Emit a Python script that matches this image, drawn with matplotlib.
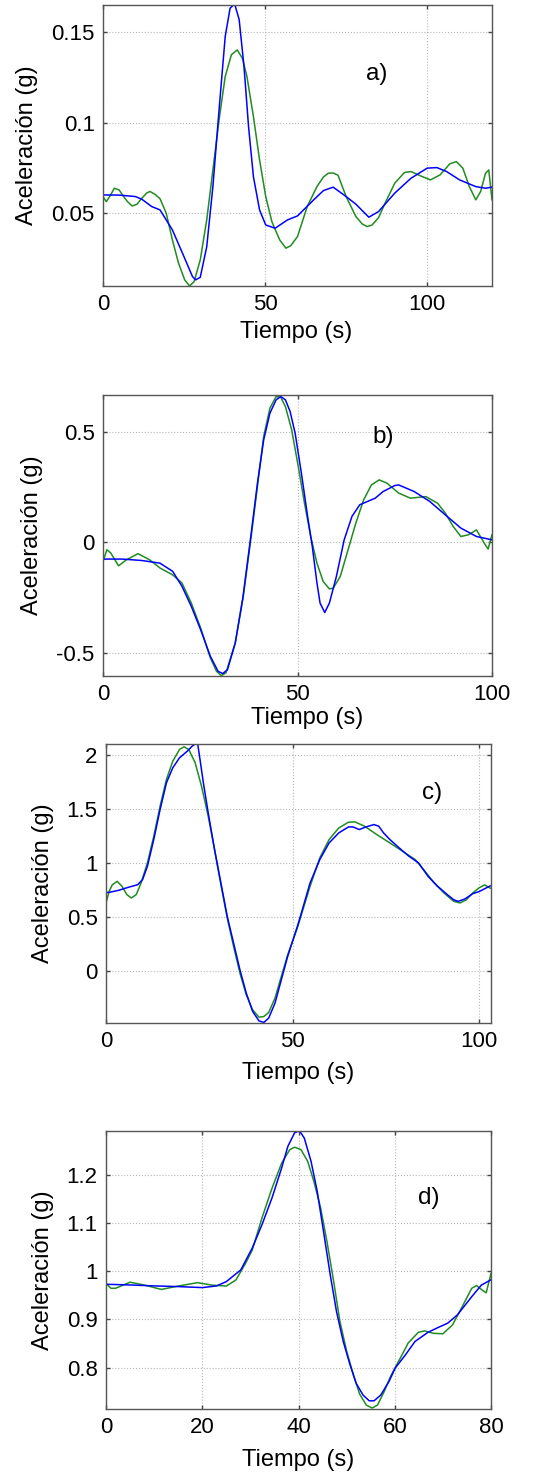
import matplotlib
matplotlib.use("Agg")
import matplotlib.pyplot as plt

plt.rcParams['font.family'] = ['Liberation Sans', 'DejaVu Sans']

# ---------------- Panel a ----------------
a_blue_t = [0, 5, 10, 12, 15, 17.6, 21.4, 25.2, 27.6, 28.6,
            30, 32, 33.9, 35.8, 37.7, 39.2, 40.6, 42, 43.5, 44.9,
            46.4, 48.3, 50.2, 53.1, 56.9, 60, 65, 68, 71, 75,
            78, 82, 85, 90, 95, 100, 103, 106, 110, 115,
            118, 120]
a_blue = [0.0601, 0.0600, 0.0592, 0.0577, 0.0537, 0.0518, 0.0408, 0.0251, 0.0150, 0.0132,
          0.0146, 0.0315, 0.0647, 0.107, 0.1476, 0.1632, 0.1656, 0.157, 0.131, 0.0978,
          0.0702, 0.0518, 0.0435, 0.0417, 0.0463, 0.0485, 0.0574, 0.0625, 0.0644, 0.0592,
          0.0550, 0.0478, 0.0509, 0.0611, 0.0693, 0.0749, 0.0752, 0.0730, 0.0684, 0.0647,
          0.0638, 0.0644]
a_green_t = [0, 1, 2, 3.5, 5, 6, 7.5, 9, 10.5, 12,
             13.5, 14.5, 16, 17.6, 19.5, 21.4, 23.3, 25.2, 26.7, 28.1,
             30, 32, 33.9, 35.8, 37.7, 39.6, 41.4, 43, 44.4, 46.4,
             48.3, 50.2, 52.1, 54.5, 56.4, 57.9, 60, 63, 66, 68,
             69.5, 71, 72.5, 75, 78, 80, 81.5, 83, 85, 87,
             90, 93, 95, 98, 101, 104, 107, 109, 111, 113,
             115, 116.5, 118, 119, 120]
a_green = [0.0592, 0.0564, 0.0590, 0.0638, 0.0628, 0.0601, 0.0565, 0.0540, 0.0550, 0.0583,
           0.0612, 0.0620, 0.0605, 0.058, 0.050, 0.0353, 0.0224, 0.0132, 0.0098, 0.0122,
           0.0242, 0.0463, 0.0739, 0.1015, 0.1255, 0.1375, 0.1402, 0.1356, 0.1255, 0.1034,
           0.0794, 0.0592, 0.0453, 0.0353, 0.0307, 0.032, 0.0371, 0.0537, 0.0647, 0.0700,
           0.0721, 0.0722, 0.0710, 0.0592, 0.0482, 0.0440, 0.0426, 0.0435, 0.0475, 0.0555,
           0.0666, 0.0725, 0.0730, 0.0706, 0.0684, 0.0712, 0.0773, 0.0785, 0.0749, 0.0647,
           0.0574, 0.0620, 0.0721, 0.0739, 0.0574]

# ---------------- Panel b ----------------
b_blue_t = [0, 5, 10, 14.65, 17.9, 20.3, 22.7, 25.1, 27.6, 29.6,
            30.8, 32, 34, 36, 38.1, 39.7, 41.3, 42.9, 44.5, 45.7,
            46.9, 48.1, 49.4, 51, 52.6, 53.8, 55, 55.8, 57, 58.2,
            60, 62, 64, 66, 68, 70, 72, 75, 76, 80,
            84, 88, 92, 96, 100]
b_blue = [-0.0755, -0.0755, -0.082, -0.094, -0.131, -0.199, -0.290, -0.396, -0.517, -0.585,
          -0.595, -0.577, -0.456, -0.245, 0.042, 0.269, 0.465, 0.586, 0.647, 0.662,
          0.647, 0.594, 0.495, 0.314, 0.118, -0.018, -0.184, -0.275, -0.318, -0.275,
          -0.154, 0.012, 0.118, 0.171, 0.186, 0.201, 0.231, 0.258, 0.261, 0.231,
          0.186, 0.125, 0.065, 0.027, 0.012]
b_green_t = [0, 1, 2, 4, 6, 9, 12, 14.65, 17.9, 20.3,
             22.7, 25.1, 27.6, 29.2, 30.4, 31.6, 34, 36, 38.1, 39.7,
             41.3, 42.9, 44.5, 45.7, 46.9, 48.5, 50.2, 51.8, 53.4, 55,
             56.6, 58.2, 59.2, 61, 63, 65, 67, 69, 71, 73,
             76, 79, 83, 86, 88, 90, 92, 94, 96, 98,
             99, 100]
b_green = [-0.086, -0.033, -0.048, -0.106, -0.079, -0.051, -0.079, -0.116, -0.147, -0.184,
           -0.275, -0.388, -0.524, -0.585, -0.604, -0.592, -0.456, -0.252, 0.027, 0.254,
           0.480, 0.609, 0.662, 0.659, 0.616, 0.511, 0.344, 0.178, 0.027, -0.094,
           -0.177, -0.211, -0.207, -0.154, -0.033, 0.088, 0.193, 0.261, 0.284, 0.269,
           0.224, 0.201, 0.208, 0.178, 0.133, 0.073, 0.027, 0.035, 0.057, -0.003,
           -0.030, 0.035]

# ---------------- Panel c ----------------
c_blue_t = [0, 0.85, 3.4, 6.0, 8.5, 9.8, 11.1, 12.8, 14.5, 16.2,
            17.9, 19.7, 21.8, 23.1, 24.1, 24.6, 25.2, 26.1, 27.4, 29.1,
            30.8, 32.5, 34.2, 35.9, 37.6, 39.3, 41.0, 42.3, 43.6, 45.3,
            47.0, 48.7, 51.3, 52.1, 54.7, 57.3, 59.8, 62.4, 65.0, 66.2,
            67.9, 69.7, 71.8, 73.1, 74.4, 76.1, 78.6, 81.2, 83.8, 86.3,
            88.9, 91.5, 93.2, 94.4, 96.2, 98.3, 100, 103]
c_blue = [0.726, 0.728, 0.747, 0.775, 0.799, 0.846, 0.969, 1.216, 1.494, 1.741,
          1.880, 1.972, 2.034, 2.080, 2.105, 2.096, 1.957, 1.741, 1.463, 1.123,
          0.815, 0.506, 0.259, 0.012, -0.204, -0.373, -0.460, -0.475, -0.435, -0.296,
          -0.080, 0.136, 0.414, 0.506, 0.815, 1.031, 1.185, 1.278, 1.333, 1.333,
          1.309, 1.333, 1.355, 1.340, 1.278, 1.216, 1.139, 1.062, 1.0, 0.877,
          0.784, 0.707, 0.660, 0.645, 0.667, 0.716, 0.735, 0.788]
c_green_t = [0, 0.85, 1.7, 3.0, 4.3, 5.6, 6.8, 8.1, 9.4, 11.1,
             12.8, 14.5, 16.2, 17.9, 19.7, 20.9, 22.2, 23.9, 25.6, 27.4,
             29.1, 30.8, 32.5, 34.2, 35.9, 37.6, 39.3, 41.0, 42.3, 43.6,
             45.3, 47.0, 48.7, 51.3, 54.7, 57.3, 59.8, 62.4, 65.0, 66.7,
             69.3, 72.6, 76.1, 79.5, 82.9, 85.5, 88.0, 90.6, 93.2, 94.9,
             96.6, 98.3, 100, 101.5, 103]
c_green = [0.630, 0.738, 0.799, 0.830, 0.784, 0.707, 0.676, 0.707, 0.815, 1.0,
           1.247, 1.525, 1.772, 1.941, 2.049, 2.074, 2.049, 1.926, 1.710, 1.432,
           1.123, 0.799, 0.491, 0.228, -0.019, -0.219, -0.358, -0.426, -0.420, -0.383,
           -0.250, -0.049, 0.151, 0.40, 0.784, 1.046, 1.216, 1.324, 1.377, 1.380,
           1.340, 1.262, 1.185, 1.108, 1.031, 0.923, 0.815, 0.722, 0.645, 0.630,
           0.660, 0.722, 0.77, 0.797, 0.767]

# ---------------- Panel d ----------------
d_blue_t = [0, 5, 10, 15, 20, 23, 25, 28, 30.4, 32.4,
            34.5, 36.5, 37.8, 39.2, 40.2, 41.2, 42.6, 43.9, 45.2, 46.6,
            47.9, 49.3, 50.7, 52.0, 53.4, 54.7, 55.7, 57.1, 58.8, 60.1,
            62.2, 64.2, 66.9, 69, 71, 73, 76, 78, 80]
d_blue = [0.9727, 0.9713, 0.9693, 0.9679, 0.9658, 0.9693, 0.9782, 1.0024, 1.048, 1.096,
          1.152, 1.214, 1.259, 1.287, 1.291, 1.276, 1.228, 1.165, 1.082, 0.992,
          0.916, 0.854, 0.806, 0.767, 0.743, 0.731, 0.731, 0.743, 0.771, 0.799,
          0.826, 0.854, 0.873, 0.883, 0.892, 0.909, 0.947, 0.971, 0.982]
d_green_t = [0, 1, 2, 5, 8, 11.5, 15, 19, 22, 25,
             27, 29, 30.4, 32.4, 34.5, 36.5, 38.2, 39.2, 40.5, 41.9,
             43.2, 44.6, 45.9, 47.3, 48.6, 50.0, 51.4, 52.7, 54.1, 55.3,
             56.4, 57.8, 59.1, 60.1, 61.5, 62.8, 64.9, 66.2, 68, 70,
             72, 74, 76, 77, 78, 79, 80]
d_green = [0.975, 0.9644, 0.9644, 0.977, 0.971, 0.962, 0.969, 0.976, 0.971, 0.969,
           0.9817, 1.016, 1.044, 1.110, 1.172, 1.224, 1.252, 1.257, 1.252, 1.228,
           1.186, 1.131, 1.062, 0.979, 0.896, 0.834, 0.785, 0.745, 0.722, 0.716,
           0.722, 0.750, 0.781, 0.800, 0.826, 0.851, 0.873, 0.876, 0.871, 0.870,
           0.8884, 0.926, 0.9644, 0.970, 0.962, 0.955, 0.995]

panel_labels = ['a)', 'b)', 'c)', 'd)']
x_label = 'Tiempo (s)'
y_label = 'Aceleración (g)'

a_xticks = [0, 50, 100]
a_yticks = [0.05, 0.1, 0.15]
a_yticklabels = ['0.05', '0.1', '0.15']
b_xticks = [0, 50, 100]
b_yticks = [-0.5, 0, 0.5]
b_yticklabels = ['-0.5', '0', '0.5']
c_xticks = [0, 50, 100]
c_yticks = [0, 0.5, 1, 1.5, 2]
c_yticklabels = ['0', '0.5', '1', '1.5', '2']
d_xticks = [0, 20, 40, 60, 80]
d_yticks = [0.8, 0.9, 1.0, 1.1, 1.2]
d_yticklabels = ['0.8', '0.9', '1', '1.1', '1.2']

BLUE = '#0000ff'
GREEN = '#228b22'

fig = plt.figure(figsize=(5.38, 14.72), dpi=100)

W, H = 538.0, 1472.0
def rect(l, r, t, b):
    return [l / W, 1 - b / H, (r - l) / W, (b - t) / H]

panels = [
    dict(rect=rect(103, 492, 5, 286), bt=a_blue_t, b=a_blue, gt=a_green_t, g=a_green,
         xlim=(0, 120), ylim=(0.0098, 0.165), xt=a_xticks, yt=a_yticks, ytl=a_yticklabels,
         lab=(84.4, 0.127), ylc=-0.195, xlc=(0.497, -0.164)),
    dict(rect=rect(103, 492, 395, 676), bt=b_blue_t, b=b_blue, gt=b_green_t, g=b_green,
         xlim=(0, 100), ylim=(-0.606, 0.669), xt=b_xticks, yt=b_yticks, ytl=b_yticklabels,
         lab=(72, 0.48), ylc=-0.183, xlc=(0.524, -0.149)),
    dict(rect=rect(106, 491, 744, 1023), bt=c_blue_t, b=c_blue, gt=c_green_t, g=c_green,
         xlim=(0, 103.2), ylim=(-0.48, 2.10), xt=c_xticks, yt=c_yticks, ytl=c_yticklabels,
         lab=(87.4, 1.65), ylc=-0.164, xlc=(0.499, -0.181)),
    dict(rect=rect(106, 491, 1131, 1409), bt=d_blue_t, b=d_blue, gt=d_green_t, g=d_green,
         xlim=(0, 80), ylim=(0.714, 1.2906), xt=d_xticks, yt=d_yticks, ytl=d_yticklabels,
         lab=(67, 1.152), ylc=-0.164, xlc=(0.499, -0.183)),
]

for p, lab in zip(panels, panel_labels):
    ax = fig.add_axes(p['rect'])
    ax.plot(p['gt'], p['g'], color=GREEN, lw=1.1, solid_joinstyle='round')
    ax.plot(p['bt'], p['b'], color=BLUE, lw=1.1, solid_joinstyle='round')
    ax.set_xlim(*p['xlim'])
    ax.set_ylim(*p['ylim'])
    ax.set_xticks(p['xt'])
    ax.set_xticklabels([str(v) for v in p['xt']])
    ax.set_yticks(p['yt'])
    ax.set_yticklabels(p['ytl'])
    ax.grid(True, linestyle=':', color='#b8b8b8', linewidth=0.8)
    ax.tick_params(direction='in', length=3, width=1.0, top=True, right=True,
                   labelsize=16, color='#444444')
    ax.tick_params(axis='x', pad=6)
    ax.tick_params(axis='y', pad=6)
    for s in ax.spines.values():
        s.set_color('#555555')
        s.set_linewidth(1.0)
    ax.set_xlabel(x_label, fontsize=17)
    ax.xaxis.label.set_va('center')
    ax.xaxis.set_label_coords(*p['xlc'])
    ax.set_ylabel(y_label, fontsize=17)
    ax.yaxis.label.set_va('center')
    ax.yaxis.set_label_coords(p['ylc'], 0.5)
    ax.text(p['lab'][0], p['lab'][1], lab, fontsize=17.5, ha='center', va='center')

fig.savefig('out.png', dpi=100)
